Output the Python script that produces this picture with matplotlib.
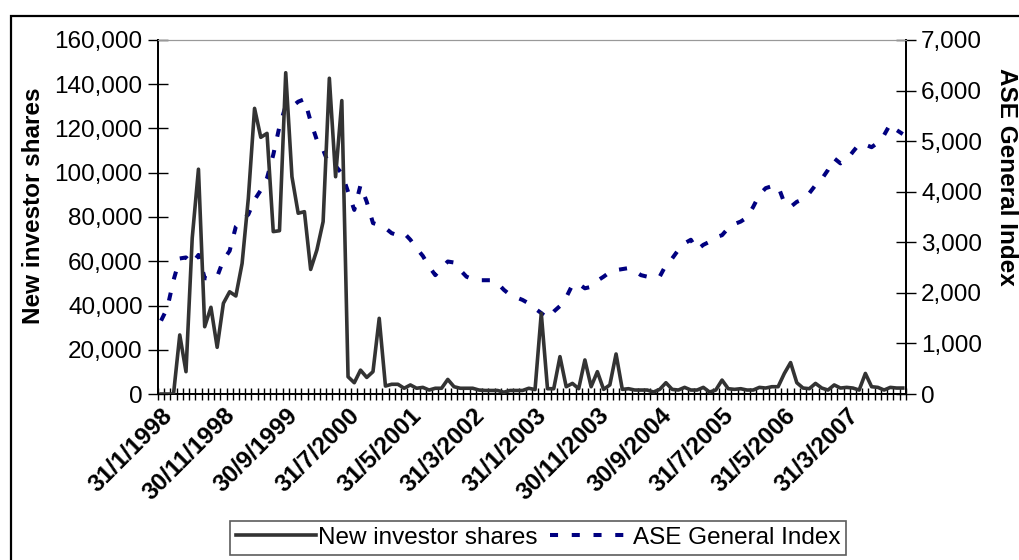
import numpy as np
import matplotlib
matplotlib.use("Agg")
import matplotlib.pyplot as plt
from matplotlib.ticker import FuncFormatter, FixedLocator
from matplotlib.patches import Rectangle

plt.rcParams['font.family'] = ['Liberation Sans', 'DejaVu Sans']

# monthly, Jan 1998 - Dec 2007
new_shares = [0, 0, 0, 26700, 10100, 70500, 101600, 30400, 39200, 21100,
              41000, 46200, 44300, 59000, 88400, 129100, 116000, 117800, 73400, 73800,
              145200, 98200, 81700, 82400, 56300, 65100, 77900, 142700, 98200, 132600,
              7800, 5100, 10800, 7500, 10100, 34200, 3600, 4400, 4400, 2600,
              4100, 2600, 3000, 1800, 2600, 2600, 6600, 3300, 2600, 2600,
              2600, 1800, 1600, 1600, 1600, 800, 1600, 1600, 1600, 2600,
              2000, 36500, 2400, 2400, 16900, 3300, 4800, 2400, 15400, 3300,
              10100, 2100, 4100, 18100, 2100, 2400, 1800, 1800, 1800, 900,
              2100, 5100, 2100, 1800, 3000, 1800, 1800, 3000, 900, 1800,
              6300, 2400, 2100, 2400, 1800, 1800, 3000, 2700, 3300, 3300,
              9300, 14200, 5100, 2700, 2400, 4800, 2700, 1800, 4100, 2700,
              3000, 2700, 1800, 9300, 3300, 3000, 1800, 3000, 2700, 2700]

ase_index = [1450, 1700, 2250, 2680, 2700, 2580, 2750, 2290, 2280, 2320,
             2650, 2830, 3310, 3440, 3550, 3840, 4030, 4270, 4730, 5290,
             5700, 5680, 5780, 5830, 5390, 5020, 4830, 4510, 4510, 4360,
             4000, 3640, 4130, 3800, 3380, 3340, 3280, 3180, 3140, 3180,
             3050, 2880, 2730, 2520, 2350, 2490, 2620, 2600, 2450, 2320,
             2270, 2250, 2250, 2250, 2190, 2060, 1960, 1910, 1860, 1790,
             1690, 1600, 1500, 1630, 1740, 1910, 2160, 2180, 2090, 2120,
             2240, 2320, 2410, 2450, 2470, 2490, 2430, 2350, 2320, 2320,
             2320, 2550, 2680, 2850, 2980, 3050, 2850, 2950, 3010, 3100,
             3140, 3280, 3360, 3410, 3490, 3700, 3940, 4070, 4110, 4110,
             3780, 3700, 3800, 3850, 3970, 4130, 4250, 4430, 4660, 4560,
             4630, 4790, 4940, 4930, 4880, 4970, 5120, 5340, 5220, 5140]

tick_labels = ["31/1/1998", "30/11/1998", "30/9/1999", "31/7/2000", "31/5/2001",
               "31/3/2002", "31/1/2003", "30/11/2003", "30/9/2004", "31/7/2005",
               "31/5/2006", "31/3/2007"]

x = np.arange(len(new_shares))

fig = plt.figure(figsize=(10.19, 5.6), dpi=100)
ax = fig.add_axes([0.155, 0.2964, 0.734, 0.6322])
ax2 = ax.twinx()

l1, = ax.plot(x, new_shares, color='#333333', lw=2.6, label='New investor shares', zorder=3)
l2, = ax2.plot(x, ase_index, color='#000080', lw=2.9, ls=(0, (2, 3.4)),
               label='ASE General Index')
ax.set_zorder(ax2.get_zorder() + 1)
ax.patch.set_visible(False)

ax.set_xlim(-0.5, len(x) - 0.5)
ax.set_ylim(0, 160000)
ax2.set_ylim(0, 7000)
ax.set_yticks(np.arange(0, 160001, 20000))
ax2.set_yticks(np.arange(0, 7001, 1000))
fmt = FuncFormatter(lambda v, p: f"{int(v):,}")
ax.yaxis.set_major_formatter(fmt)
ax2.yaxis.set_major_formatter(fmt)

ax.set_xticks(np.arange(0, len(x), 10))
ax.set_xticklabels(tick_labels, rotation=45, ha='right', va='top',
                   rotation_mode='anchor', fontsize=17.5, fontweight='bold')
ax.xaxis.set_minor_locator(FixedLocator(np.arange(-0.5, len(x), 1)))
ax.tick_params(axis='x', which='major', length=0, pad=7)
ax.tick_params(axis='x', which='minor', direction='inout', length=9, width=1)
ax.tick_params(axis='y', direction='inout', length=14, width=1, labelsize=17.5, pad=4)
ax2.tick_params(axis='y', direction='inout', length=14, width=1, labelsize=17.5, pad=4)
ax2.tick_params(axis='x', length=0)

for a in (ax, ax2):
    a.spines['top'].set_color('#999999')
    a.spines['left'].set_linewidth(1.3)
    a.spines['right'].set_linewidth(1.3)
    a.spines['bottom'].set_linewidth(1.3)

ax.set_ylabel('New investor shares', fontsize=17.5, fontweight='bold',
              va='center', ha='center')
ax.yaxis.set_label_coords(-0.166, 0.532)
ax2.set_ylabel('ASE General Index', fontsize=17.5, fontweight='bold', rotation=-90,
               va='center', ha='center')
ax2.yaxis.set_label_coords(1.135, 0.613)

leg = fig.legend(handles=[l1, l2], loc='center', bbox_to_anchor=(0.528, 0.040),
                 ncol=2, fontsize=17.5, frameon=True, fancybox=False,
                 edgecolor='#333333', handlelength=3.3, handletextpad=0.1,
                 columnspacing=0.5, borderpad=0.25, borderaxespad=0)
leg.get_frame().set_linewidth(1.2)

fig.patches.append(Rectangle((11 / 1019, -0.1), 1.2, 1 - 16 / 560 + 0.1,
                             transform=fig.transFigure, fill=False,
                             edgecolor='black', lw=1.6))

fig.savefig('out.png', dpi=100)
